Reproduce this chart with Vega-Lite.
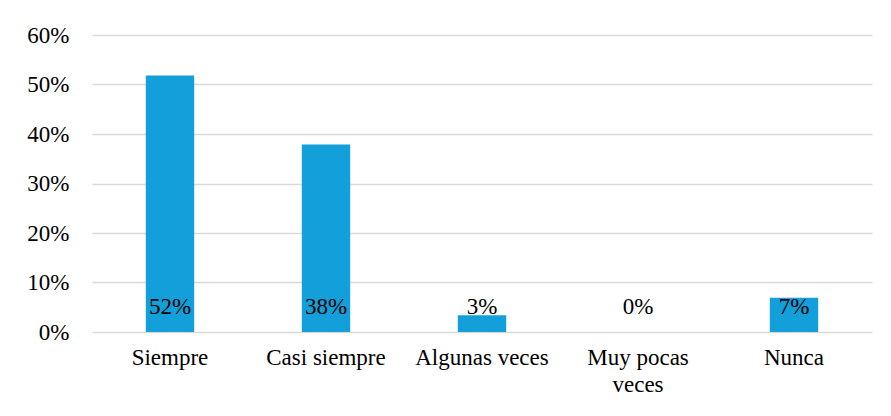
{
  "$schema": "https://vega.github.io/schema/vega-lite/v6.json",
  "width": 780,
  "height": 297,
  "autosize": {"type": "none"},
  "padding": {"left": 92, "top": 35, "right": 19, "bottom": 84},
  "background": "white",
  "config": {
    "view": {"stroke": null},
    "font": "Liberation Serif"
  },
  "data": {
    "values": [
      {"categoria": "Siempre", "valor": 0.518, "etiqueta": "52%"},
      {"categoria": "Casi siempre", "valor": 0.379, "etiqueta": "38%"},
      {"categoria": "Algunas veces", "valor": 0.034, "etiqueta": "3%"},
      {"categoria": "Muy pocas veces", "valor": 0.0, "etiqueta": "0%"},
      {"categoria": "Nunca", "valor": 0.069, "etiqueta": "7%"}
    ]
  },
  "encoding": {
    "x": {
      "field": "categoria",
      "type": "nominal",
      "sort": null,
      "scale": {"paddingInner": 0.69, "paddingOuter": 0.345},
      "axis": {
        "title": null,
        "labelAngle": 0,
        "ticks": false,
        "domain": false,
        "labelFont": "Liberation Serif",
        "labelFontSize": 23,
        "labelColor": "#000000",
        "labelPadding": 14,
        "labelLineHeight": 27,
        "labelOverlap": false,
        "labelExpr": "datum.value == 'Muy pocas veces' ? ['Muy pocas', 'veces'] : datum.value"
      }
    }
  },
  "layer": [
    {
      "mark": {"type": "bar", "color": "#139fd9"},
      "encoding": {
        "y": {
          "field": "valor",
          "type": "quantitative",
          "scale": {"domain": [0, 0.6]},
          "axis": {
            "title": null,
            "format": ".0%",
            "values": [0, 0.1, 0.2, 0.3, 0.4, 0.5, 0.6],
            "labelOverlap": false,
            "ticks": false,
            "domain": false,
            "grid": true,
            "gridColor": "#d9d9d9",
            "gridWidth": 1.5,
            "labelFont": "Liberation Serif",
            "labelFontSize": 23,
            "labelColor": "#000000",
            "labelPadding": 23
          }
        }
      }
    },
    {
      "mark": {"type": "text", "font": "Liberation Serif", "fontSize": 23, "color": "#000000", "baseline": "bottom", "dy": -13},
      "encoding": {
        "y": {"datum": 0, "type": "quantitative"},
        "text": {"field": "etiqueta"}
      }
    }
  ]
}
